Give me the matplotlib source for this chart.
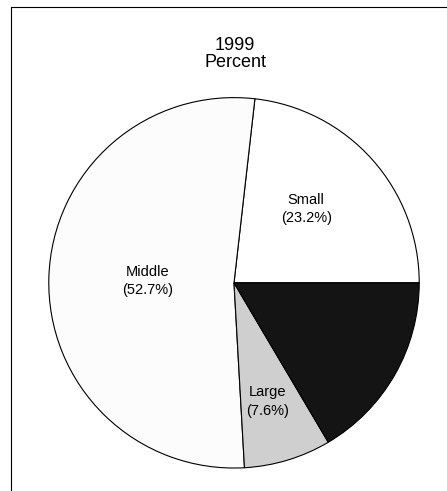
import matplotlib.pyplot as plt
from matplotlib.lines import Line2D

# --- data (1999, percent)
names = ['Small', 'Middle', 'Large', '']
shares = [23.2, 52.7, 7.6, 16.5]
fills = ['#ffffff', '#fcfcfc', '#cfcfcf', '#141414']

# label placement (pie units, centre = 0,0)
label_xy = [(0.39, 0.40), (-0.465, 0.01), (0.18, -0.64), None]

fig = plt.figure(figsize=(4.47, 4.91), dpi=100)
ax = fig.add_axes([0.105, 0.043, 0.837, 0.762])

wedges, _ = ax.pie(shares, colors=fills, startangle=0, counterclock=True,
                   radius=1.0,
                   wedgeprops=dict(edgecolor='black', linewidth=0.8))
ax.set_xlim(-1.01, 1.01)
ax.set_ylim(-1.01, 1.01)
ax.set_aspect('equal')
ax.axis('off')

for name, val, xy in zip(names, shares, label_xy):
    if xy is None:
        continue
    ax.text(xy[0], xy[1], f'{name}\n({val}%)', ha='center', va='center',
            fontsize=10.5, family='Liberation Sans', linespacing=1.4)

# title, two lines
fig.text(0.526, 0.908, '1999', ha='center', va='center',
         fontsize=13, family='Liberation Sans')
fig.text(0.526, 0.872, 'Percent', ha='center', va='center',
         fontsize=13, family='Liberation Sans')

# scanned frame: top and left edges
fig.add_artist(Line2D([0.025, 1.0], [0.985, 0.985], color='black', lw=0.8,
                      transform=fig.transFigure))
fig.add_artist(Line2D([0.025, 0.025], [0.0, 0.985], color='black', lw=0.8,
                      transform=fig.transFigure))

plt.savefig('out.png', dpi=100)
